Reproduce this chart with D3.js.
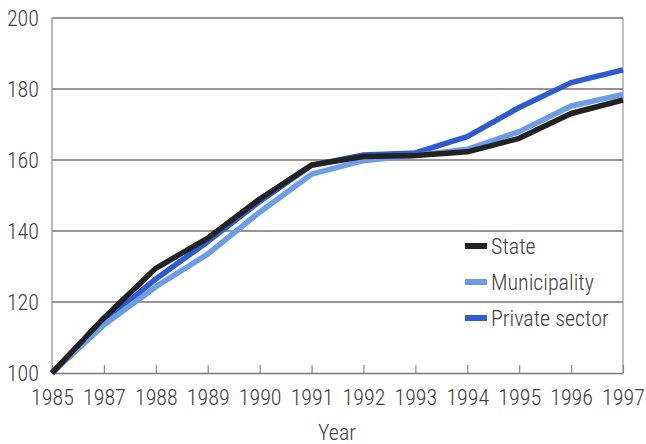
<!DOCTYPE html>
<html>
<head>
<meta charset="utf-8">
<script src="https://cdn.jsdelivr.net/npm/d3@7"></script>
<style>
  body { margin: 0; background: #fff; }
  text { font-family: "Liberation Sans Narrow", "Roboto Condensed", "Arial Narrow", sans-serif; font-weight: 300; fill: #404040; }
</style>
</head>
<body>
<svg></svg>
<script>
// data
var years = ["1985", "1987", "1988", "1989", "1990", "1991", "1992", "1993", "1994", "1995", "1996", "1997"];
var stateVals = [100, 115.5, 129.5, 138, 149, 158.6, 161, 161.3, 162.3, 166.1, 173.1, 176.9];
var municipalityVals = [100, 113.5, 124.3, 133.5, 145.3, 156, 159.8, 161.3, 163, 168, 175.2, 178.5];
var privateVals = [100, 114.3, 126.5, 137, 148.3, 158.5, 161.4, 162, 166.6, 174.8, 181.8, 185.4];
var yTicks = [100, 120, 140, 160, 180, 200];
var seriesNames = ["State", "Municipality", "Private sector"];

var svgWidth = 646;
var svgHeight = 444;
var margin = { top: 18, right: 23, bottom: 71, left: 52 };
var width = svgWidth - margin.left - margin.right;
var height = svgHeight - margin.top - margin.bottom;

var svg = d3.select("svg")
    .attr("width", svgWidth)
    .attr("height", svgHeight);

var chartGroup = svg.append("g")
    .attr("transform", `translate(${margin.left},${margin.top})`);

var xScale = d3.scalePoint()
    .domain(years)
    .range([0, width]);

var yScale = d3.scaleLinear()
    .domain([100, 200])
    .range([height, 0]);

// gridlines
chartGroup.selectAll(".grid")
    .data(yTicks.filter(d => d > 100))
    .enter()
    .append("line")
    .attr("x1", 0)
    .attr("x2", width)
    .attr("y1", d => yScale(d))
    .attr("y2", d => yScale(d))
    .attr("stroke", "#7d6d72")
    .attr("stroke-width", 1.3);

// frame sides
chartGroup.append("line")
    .attr("x1", 0).attr("x2", 0)
    .attr("y1", 0).attr("y2", height)
    .attr("stroke", "#8a8a8a").attr("stroke-width", 1.2);
chartGroup.append("line")
    .attr("x1", width).attr("x2", width)
    .attr("y1", 0).attr("y2", height)
    .attr("stroke", "#9a9a9a").attr("stroke-width", 1.2);

// x axis with inner ticks
var bottomAxis = d3.axisBottom(xScale).tickSizeInner(-8).tickSizeOuter(0).tickPadding(16);
var xAxis = chartGroup.append("g")
    .attr("transform", `translate(0, ${height})`)
    .call(bottomAxis);
xAxis.select(".domain").attr("stroke", "#7a7a7a").attr("stroke-width", 1.3);
xAxis.selectAll(".tick line").attr("stroke", "#8a8a8a").attr("stroke-width", 1.2);
xAxis.selectAll(".tick text")
    .style("font-size", "22px")
    .attr("fill", "#404040");

// y axis labels
var leftAxis = d3.axisLeft(yScale).tickValues(yTicks).tickSize(0).tickPadding(13);
var yAxis = chartGroup.append("g").call(leftAxis);
yAxis.select(".domain").remove();
yAxis.selectAll(".tick text")
    .style("font-size", "22px")
    .attr("fill", "#404040");

// axis title
svg.append("text")
    .attr("x", 337)
    .attr("y", 440)
    .attr("text-anchor", "middle")
    .style("font-size", "22px")
    .text("Year");

// lines
var line = d3.line()
    .x((d, i) => xScale(years[i]))
    .y(d => yScale(d));

var series = [
    { name: "Private sector", values: privateVals, color: "#2d5bd2" },
    { name: "Municipality", values: municipalityVals, color: "#6c9de7" },
    { name: "State", values: stateVals, color: "#222222" }
];

chartGroup.selectAll(".series")
    .data(series)
    .enter()
    .append("path")
    .attr("d", d => line(d.values))
    .attr("fill", "none")
    .attr("stroke", d => d.color)
    .attr("stroke-width", 5.5)
    .attr("stroke-linejoin", "round");

// legend
var legendColors = { "State": "#222222", "Municipality": "#6c9de7", "Private sector": "#2d5bd2" };
var legend = svg.append("g").attr("transform", "translate(465, 246)");
seriesNames.forEach(function(name, i) {
    var g = legend.append("g").attr("transform", `translate(0, ${i * 36})`);
    g.append("rect")
        .attr("x", 0).attr("y", -3)
        .attr("width", 22).attr("height", 6)
        .attr("fill", legendColors[name]);
    g.append("text")
        .attr("x", 26)
        .attr("y", 8)
        .style("font-size", "22px")
        .text(name);
});
</script>
</body>
</html>
